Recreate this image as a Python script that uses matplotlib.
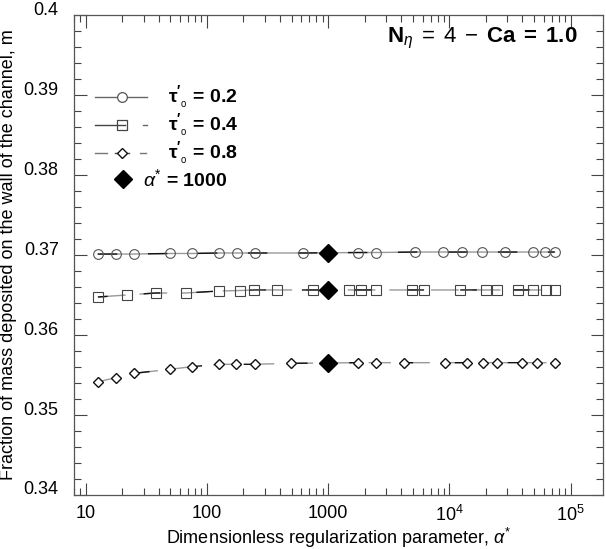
import matplotlib
matplotlib.use("Agg")
import matplotlib.pyplot as plt
from matplotlib.lines import Line2D
from matplotlib.ticker import FixedLocator, NullFormatter
import matplotlib.transforms as mtransforms
import numpy as np

plt.rcParams['font.family'] = ['Liberation Sans', 'DejaVu Sans']
plt.rcParams['mathtext.fontset'] = 'custom'
plt.rcParams['mathtext.rm'] = 'Liberation Sans'
plt.rcParams['mathtext.it'] = 'Liberation Sans:italic'
plt.rcParams['mathtext.bf'] = 'Liberation Sans:bold'

# ---------------- data ----------------
alpha_tau02 = [12.6, 17.7, 25, 50, 75, 126, 177, 250, 620, 1770, 2500, 5240,
               8900, 12800, 18700, 28500, 48500, 61000, 73800]
m_tau02 = [0.37012, 0.37012, 0.37012, 0.37019, 0.37019, 0.37025, 0.37025,
           0.37025, 0.37025, 0.37031, 0.37031, 0.37037, 0.37037, 0.37037,
           0.37037, 0.37037, 0.37037, 0.37037, 0.37037]

alpha_tau04 = [12.6, 21.8, 37.9, 67, 126, 187, 245, 379, 751, 1490, 1875, 2500,
               4950, 6200, 12300, 19900, 24900, 37100, 49400, 62100, 73800]
m_tau04 = [0.36475, 0.36500, 0.36525, 0.36525, 0.36550, 0.36556, 0.36563,
           0.36563, 0.36563, 0.36563, 0.36563, 0.36563, 0.36563, 0.36563,
           0.36563, 0.36563, 0.36563, 0.36563, 0.36563, 0.36563, 0.36563]

alpha_tau08 = [12.6, 17.7, 25, 49.5, 75, 126, 174, 250, 494, 1770, 2500, 4250,
               9270, 14100, 19100, 24900, 39400, 53300, 73800]
m_tau08 = [0.35416, 0.35466, 0.35521, 0.35571, 0.35604, 0.35634, 0.35634,
           0.35634, 0.35646, 0.35654, 0.35654, 0.35654, 0.35654, 0.35654,
           0.35654, 0.35654, 0.35654, 0.35654, 0.35654]

alpha_star = 1000
m_alpha_star = [0.37031, 0.36563, 0.35646]

legend_labels = [r"$\mathbf{\tau'}_{_{\mathrm{o}}}$ = 0.2",
                 r"$\mathbf{\tau'}_{_{\mathrm{o}}}$ = 0.4",
                 r"$\mathbf{\tau'}_{_{\mathrm{o}}}$ = 0.8",
                 r"$\alpha^{*}$ = 1000"]
xtick_vals = [10, 100, 1000, 1e4, 1e5]
xtick_labels = ['10', '100', '1000', r'$\mathregular{10^4}$', r'$\mathregular{10^5}$']
ytick_vals = [0.34, 0.35, 0.36, 0.37, 0.38, 0.39, 0.40]
ytick_labels = ['0.34', '0.35', '0.36', '0.37', '0.38', '0.39', '0.4']

# ---------------- figure ----------------
W, H = 606, 549
fig = plt.figure(figsize=(W / 100, H / 100), dpi=100)
L, R, T, B = 74, 603, 15, 495
ax = fig.add_axes([L / W, 1 - B / H, (R - L) / W, (B - T) / H])
ax.set_xscale('log')
ax.set_xlim(8, 1.85e5)
ax.set_ylim(0.34, 0.40)

ms_open = 7
ax.plot(alpha_tau02, m_tau02, color='#999999', lw=1.0, zorder=2)
ax.plot(alpha_tau02, m_tau02, color='#111111', lw=1.0, ls=(0, (14, 22)), zorder=2)
ax.plot(alpha_tau02, m_tau02, ls='none', marker='o', ms=ms_open, mfc='none',
        mec='#555555', mew=0.8, zorder=3)

ax.plot(alpha_tau04, m_tau04, color='#999999', lw=1.0, ls=(0, (20, 10)), zorder=2)
ax.plot(alpha_tau04, m_tau04, color='#111111', lw=1.0, ls=(5, (12, 26)), zorder=2)
ax.plot(alpha_tau04, m_tau04, ls='none', marker='s', ms=6.8, mfc='none',
        mec='#444444', mew=0.8, zorder=3)

ax.plot(alpha_tau08, m_tau08, color='#999999', lw=1.0, ls=(0, (16, 12)), zorder=2)
ax.plot(alpha_tau08, m_tau08, color='#111111', lw=1.0, ls=(8, (8, 30)), zorder=2)
ax.plot(alpha_tau08, m_tau08, ls='none', marker='D', ms=5.5, mfc='white',
        mec='#111111', mew=1.0, zorder=3)

ax.plot([alpha_star] * 3, m_alpha_star, ls='none', marker='D', ms=9.5,
        mfc='black', mec='black', zorder=4)

# ticks
ax.xaxis.set_major_locator(FixedLocator(xtick_vals))
ax.set_xticklabels(xtick_labels)
minors = [m * 10 ** e for e in range(0, 6) for m in range(2, 10)]
ax.xaxis.set_minor_locator(FixedLocator(minors))
ax.xaxis.set_minor_formatter(NullFormatter())
ax.set_yticks(ytick_vals)
ax.set_yticklabels(ytick_labels)
ax.set_yticks(np.arange(0.34, 0.4001, 0.002), minor=True)
ax.tick_params(which='both', direction='in', top=True, right=True,
               colors='#444444', labelcolor='black', labelsize=13)
ax.tick_params(which='major', length=9, width=0.8)
ax.tick_params(axis='y', which='major', pad=11)
ax.tick_params(axis='x', which='major', pad=7)
ax.tick_params(which='minor', length=5, width=0.8)
for s in ax.spines.values():
    s.set_color('#555555')
    s.set_linewidth(0.9)

# y tick labels sit slightly above their ticks in the reference
shift = mtransforms.ScaledTranslation(0, 0.07, fig.dpi_scale_trans)
for lab in ax.get_yticklabels():
    lab.set_transform(lab.get_transform() + shift)

ax.set_xlabel(r"Dimensionless regularization parameter, $\alpha^{*}$", fontsize=13, labelpad=1)
ax.set_ylabel("Fraction of mass deposited on the wall of the channel, m", fontsize=13, labelpad=5)

# legend drawn manually (axes fraction coordinates)
def fx(px):
    return (px - L) / (R - L)

def fy(py):
    return (B - py) / (B - T)

ax.text(fx(578), fy(42), r"$\mathbf{N}_{\eta}\;=\;4\;-\;\mathbf{Ca\;=\;1.0}$",
        transform=ax.transAxes, ha='right', va='baseline', fontsize=16)

rows = [97, 125, 153, 179]
y = fy(rows[0])
ax.add_line(Line2D([fx(95), fx(147)], [y, y], transform=ax.transAxes, color='#666666', lw=1.0))
ax.add_line(Line2D([fx(122)], [y], transform=ax.transAxes, ls='none', marker='o',
                   ms=ms_open, mfc='white', mec='#555555', mew=0.9))
y = fy(rows[1])
ax.add_line(Line2D([fx(95), fx(125)], [y, y], transform=ax.transAxes, color='#444444', lw=1.0))
ax.add_line(Line2D([fx(143), fx(147)], [y, y], transform=ax.transAxes, color='#666666', lw=1.0))
ax.add_line(Line2D([fx(122)], [y], transform=ax.transAxes, ls='none', marker='s',
                   ms=6.8, mfc='none', mec='#444444', mew=0.9))
y = fy(rows[2])
ax.add_line(Line2D([fx(95), fx(107)], [y, y], transform=ax.transAxes, color='#777777', lw=1.0))
ax.add_line(Line2D([fx(115), fx(129)], [y, y], transform=ax.transAxes, color='#444444', lw=1.0))
ax.add_line(Line2D([fx(140), fx(146)], [y, y], transform=ax.transAxes, color='#777777', lw=1.0))
ax.add_line(Line2D([fx(122)], [y], transform=ax.transAxes, ls='none', marker='D',
                   ms=5.5, mfc='white', mec='#111111', mew=1.0))
for i in range(3):
    ax.text(fx(168), fy(rows[i]), legend_labels[i], transform=ax.transAxes, va='center',
            ha='left', fontsize=14, fontweight='bold')
y = fy(rows[3])
ax.add_line(Line2D([fx(123)], [y], transform=ax.transAxes, ls='none', marker='D',
                   ms=9.5, mfc='black', mec='black'))
ax.text(fx(143), y, legend_labels[3], transform=ax.transAxes, va='center',
        ha='left', fontsize=14, fontweight='bold')

fig.savefig('out.png', dpi=100)
